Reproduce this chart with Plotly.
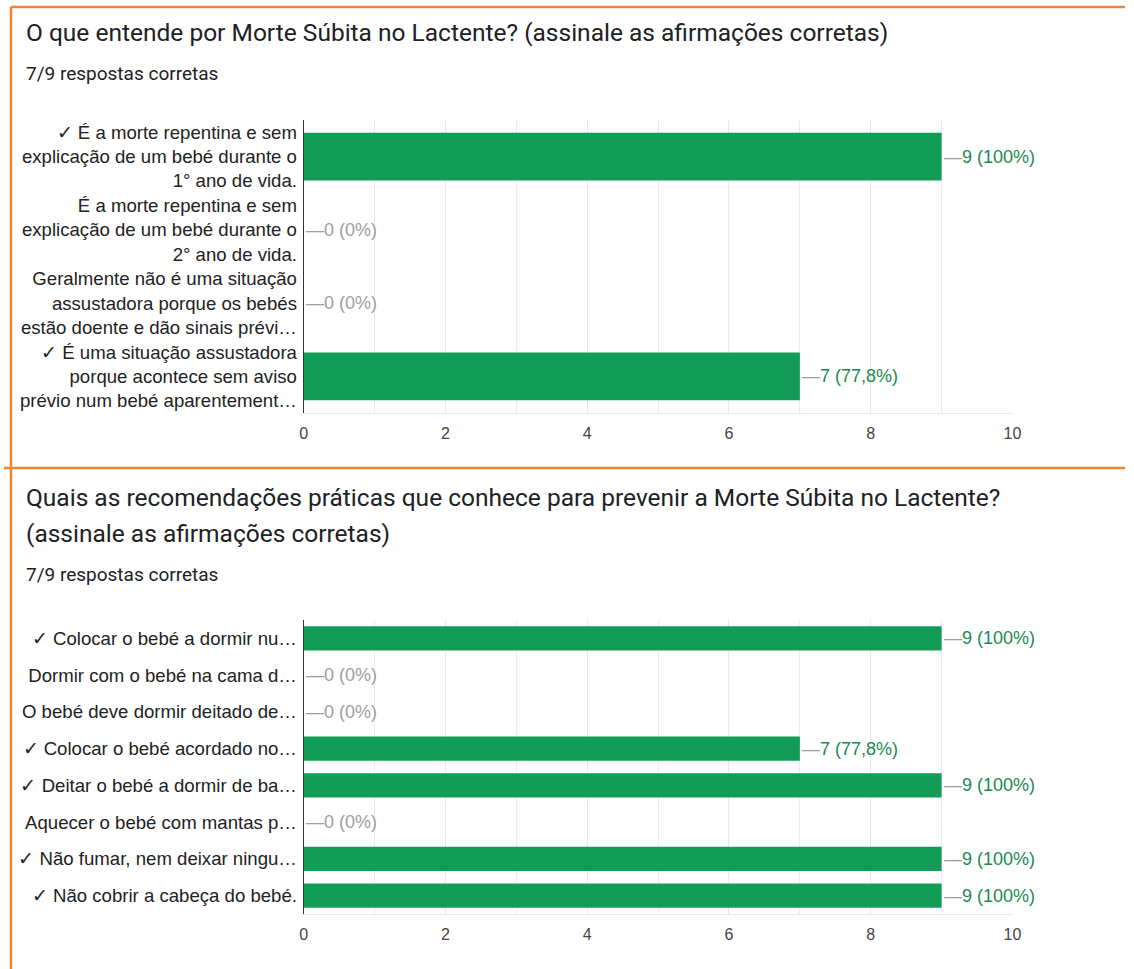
import plotly.graph_objects as go

# ---------------- data ----------------
q1_title = "O que entende por Morte Súbita no Lactente? (assinale as afirmações corretas)"
q1_sub = "7/9 respostas corretas"
q1_labels = [
    "✓ É a morte repentina e sem<br>explicação de um bebé durante o<br>1° ano de vida.",
    "É a morte repentina e sem<br>explicação de um bebé durante o<br>2° ano de vida.",
    "Geralmente não é uma situação<br>assustadora porque os bebés<br>estão doente e dão sinais prévi…",
    "✓ É uma situação assustadora<br>porque acontece sem aviso<br>prévio num bebé aparentement…",
]
q1_values = [9, 0, 0, 7]
q1_pct = ["100%", "0%", "0%", "77,8%"]

q2_title_line1 = "Quais as recomendações práticas que conhece para prevenir a Morte Súbita no Lactente?"
q2_title_line2 = "(assinale as afirmações corretas)"
q2_sub = "7/9 respostas corretas"
q2_labels = [
    "✓ Colocar o bebé a dormir nu…",
    "Dormir com o bebé na cama d…",
    "O bebé deve dormir deitado de…",
    "✓ Colocar o bebé acordado no…",
    "✓ Deitar o bebé a dormir de ba…",
    "Aquecer o bebé com mantas p…",
    "✓ Não fumar, nem deixar ningu…",
    "✓ Não cobrir a cabeça do bebé.",
]
q2_values = [9, 0, 0, 7, 9, 0, 9, 9]
q2_pct = ["100%", "0%", "0%", "77,8%", "100%", "0%", "100%", "100%"]

x_ticks = [0, 2, 4, 6, 8, 10]

# ---------------- style ----------------
W, H = 1134, 969
W_EFF = 1126  # laid-out width observed in the browser
BAR = "#129c57"
GREEN_TXT = "#1b8a4f"
GRAY_TXT = "#9e9e9e"
ORANGE = "#ef8535"
ARIAL = "Liberation Sans, Arial"

def px_x(p):
    return p / W_EFF

def px_y(p):
    return 1 - p / H

fig = go.Figure()

fig.add_trace(go.Bar(x=q1_values, y=q1_labels, orientation="h", marker=dict(color=BAR, line=dict(width=0)),
                     xaxis="x", yaxis="y", hoverinfo="skip", showlegend=False))
fig.add_trace(go.Bar(x=q2_values, y=q2_labels, orientation="h", marker=dict(color=BAR, line=dict(width=0)),
                     xaxis="x2", yaxis="y2", hoverinfo="skip", showlegend=False))

xdom = [px_x(301), px_x(1013)]
xaxis_common = dict(
    range=[0, 10], tickvals=x_ticks, showgrid=True, gridcolor="#e8e8e8", gridwidth=1,
    minor=dict(dtick=1, showgrid=True, gridcolor="#ececec"),
    zeroline=False, showline=True, linecolor="#e8e8e8", linewidth=1,
    tickfont=dict(family=ARIAL, size=16, color="#444444"),
    ticks="", ticklabelstandoff=6, fixedrange=True,
)
yaxis_common = dict(
    autorange="reversed", showline=True, linecolor="#333333", linewidth=1,
    showgrid=False, ticks="", ticklabelstandoff=2, fixedrange=True,
)

fig.update_layout(
    width=W, height=H,
    margin=dict(l=0, r=0, t=0, b=0),
    paper_bgcolor="white", plot_bgcolor="white",
    bargap=0.345,
    xaxis=dict(domain=xdom, anchor="y", **xaxis_common),
    yaxis=dict(domain=[px_y(413), px_y(120)], anchor="x",
               tickfont=dict(family=ARIAL, size=18.6, color="#222222"), **yaxis_common),
    xaxis2=dict(domain=xdom, anchor="y2", **xaxis_common),
    yaxis2=dict(domain=[px_y(914), px_y(620)], anchor="x2",
                tickfont=dict(family=ARIAL, size=18.6, color="#222222"), **yaxis_common),
)

annotations = []

def add_values(labels, values, pcts, xref, yref):
    for lab, v, p in zip(labels, values, pcts):
        col = GREEN_TXT if v > 0 else GRAY_TXT
        annotations.append(dict(
            x=v, y=lab, xref=xref, yref=yref, xanchor="left", yanchor="middle",
            text=f'<span style="color:#9e9e9e">—</span>{v} ({p})',
            showarrow=False, font=dict(family=ARIAL, size=18, color=col),
        ))

add_values(q1_labels, q1_values, q1_pct, "x", "y")
add_values(q2_labels, q2_values, q2_pct, "x2", "y2")

TITLE_FONT = dict(family="Roboto", size=24.5, color="#202124")
SUB_FONT = dict(family="Roboto", size=19, color="#202124")

def text_ann(txt, y, font):
    return dict(x=px_x(20), y=px_y(y), xref="paper", yref="paper", xanchor="left", yanchor="middle",
                text=txt, showarrow=False, font=font, align="left")

annotations += [
    text_ann(q1_title, 33, TITLE_FONT),
    text_ann(q1_sub, 73, SUB_FONT),
    text_ann(q2_title_line1, 497, TITLE_FONT),
    text_ann(q2_title_line2, 533, TITLE_FONT),
    text_ann(q2_sub, 574, SUB_FONT),
]
fig.update_layout(annotations=annotations)

# orange card borders
shapes = [
    dict(type="line", xref="paper", yref="paper", x0=px_x(7), x1=1, y0=px_y(7), y1=px_y(7),
         line=dict(color=ORANGE, width=2.5)),
    dict(type="line", xref="paper", yref="paper", x0=px_x(7), x1=px_x(7), y0=px_y(7), y1=0,
         line=dict(color=ORANGE, width=2.5)),
    dict(type="line", xref="paper", yref="paper", x0=0, x1=1, y0=px_y(468), y1=px_y(468),
         line=dict(color=ORANGE, width=2.5)),
]
fig.update_layout(shapes=shapes)

fig.write_html(
    "out.html",
    config={"displayModeBar": False},
    post_script="document.body.style.margin='0';document.body.style.overflow='hidden';",
)
